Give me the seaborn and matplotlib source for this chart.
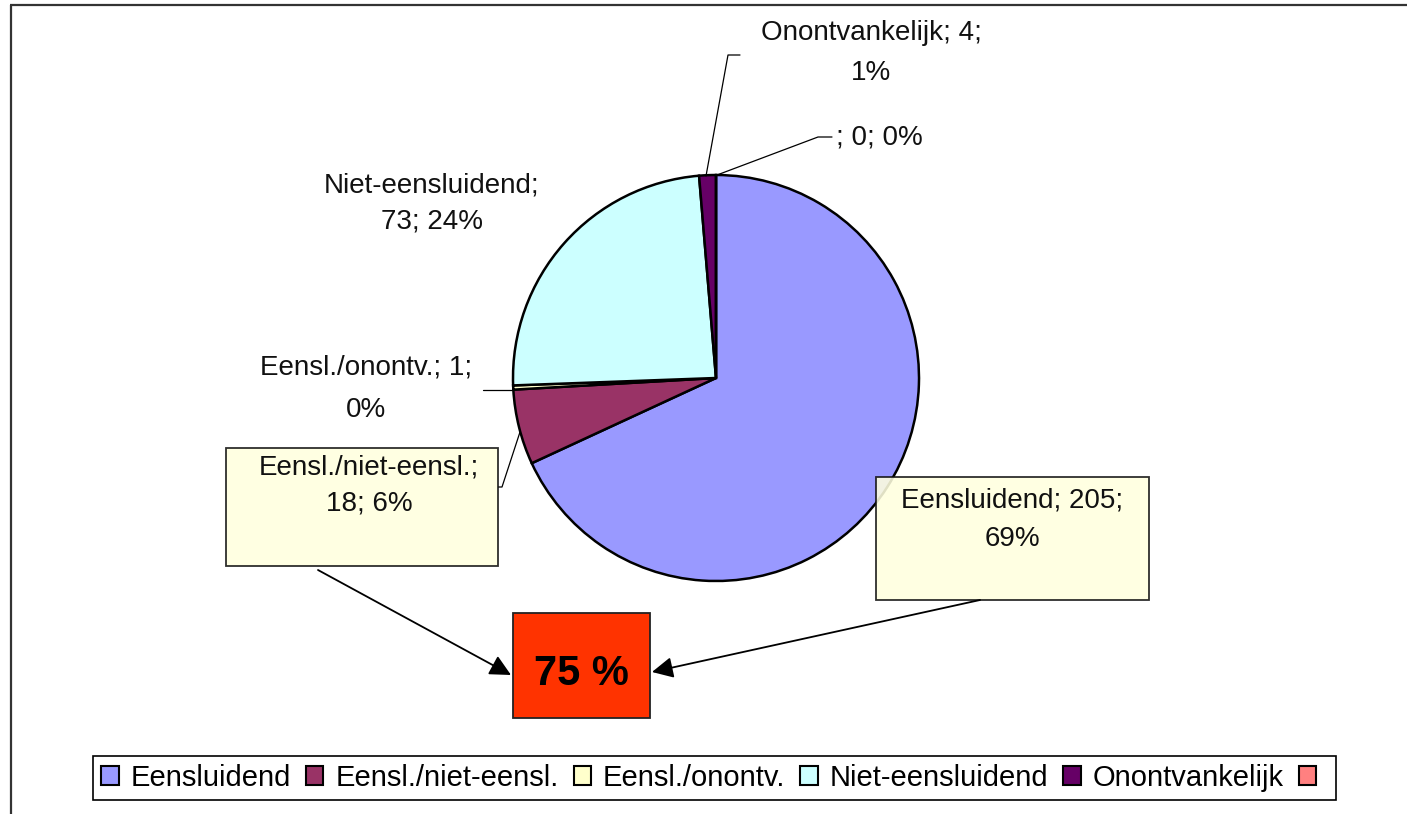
import matplotlib
matplotlib.use("Agg")
import matplotlib.pyplot as plt
import seaborn as sns
from matplotlib.patches import Rectangle, Patch

# ---- data ----
categories = ["Eensluidend", "Eensl./niet-eensl.", "Eensl./onontv.",
              "Niet-eensluidend", "Onontvankelijk", ""]
counts = [205, 18, 1, 73, 4, 0]
pct_labels = ["69%", "6%", "0%", "24%", "1%", "0%"]
colors = ["#9999FF", "#993366", "#FFFFCC", "#CCFFFF", "#660066", "#FF8080"]
total_label = "75 %"

sns.set_theme(style="white")
plt.rcParams['font.family'] = ['Liberation Sans', 'DejaVu Sans']
plt.rcParams['text.color'] = 'black'

W, H = 1407, 814
fig = plt.figure(figsize=(W / 100, H / 100), dpi=100)
ax = fig.add_axes([0, 0, 1, 1])


def Y(y):
    return H - y


ax.pie(counts, colors=colors, startangle=90, counterclock=False,
       center=(716, Y(378)), radius=203,
       wedgeprops=dict(edgecolor='black', linewidth=1.8))
ax.set_xlim(0, W)
ax.set_ylim(0, H)
ax.set_aspect('equal')
ax.axis('off')

# frame lines (partial chart border)
ax.plot([10, W], [Y(5), Y(5)], color='#333333', lw=1.6, clip_on=False, solid_capstyle='butt')
ax.plot([11, 11], [Y(5), 0], color='#333333', lw=1.6, clip_on=False, solid_capstyle='butt')

# label layout: x, y-center, ha, linespacing, break-after (number of parts on first line)
layout = [
    (1012, 520, 'center', 1.62, 2),   # Eensluidend
    (369, 486, 'center', 1.5, 1),     # Eensl./niet-eensl.
    (366, 389, 'center', 1.83, 2),    # Eensl./onontv.
    (432, 203, 'center', 1.5, 1),     # Niet-eensluidend
    (871, 53, 'center', 1.75, 2),     # Onontvankelijk
    (836, 137, 'left', 1.2, 3),       # empty
]

boxes = {0: (876, 477, 1149, 600), 1: (226, 448, 498, 566)}
for i, (x0, y0, x1, y1) in boxes.items():
    ax.add_patch(Rectangle((x0, Y(y1)), x1 - x0, y1 - y0, facecolor='#FFFFDF',
                           edgecolor='#111111', lw=1.3, alpha=0.88, zorder=3))

for i, (cat, cnt, pct) in enumerate(zip(categories, counts, pct_labels)):
    x, yc, ha, ls, brk = layout[i]
    parts = [cat + ";", f"{cnt};", pct]
    first = " ".join(parts[:brk])
    rest = " ".join(parts[brk:])
    txt = first if not rest else first + "\n" + rest
    ax.text(x, Y(yc), txt, ha=ha, va='center', fontsize=20, linespacing=ls,
            color='#111111', multialignment='center', zorder=4)

# leader lines
leaders = [
    [(706, 176), (728, 55), (740, 55)],
    [(717, 175), (818, 137), (832, 137)],
    [(483, 390), (513, 390)],
    [(498, 487), (502, 487), (520, 432)],
]
for pts in leaders:
    ax.plot([p[0] for p in pts], [Y(p[1]) for p in pts], color='black', lw=0.9, zorder=2)

# total box
ax.add_patch(Rectangle((513, Y(718)), 137, 105, facecolor='#FF3300',
                       edgecolor='#222222', lw=1.3, zorder=3))
ax.text(581, Y(674), total_label, ha='center', va='center', fontsize=30,
        fontweight='bold', color='black', zorder=4)

arrow = dict(arrowstyle='-|>', color='black', lw=1.3, mutation_scale=32,
             shrinkA=0, shrinkB=0)
ax.annotate('', xy=(511, Y(675)), xytext=(318, Y(570)), arrowprops=arrow, zorder=5)
ax.annotate('', xy=(652, Y(672)), xytext=(980, Y(600)), arrowprops=arrow, zorder=5)

handles = [Patch(facecolor=c, edgecolor='black', linewidth=1.5) for c in colors]
leg = fig.legend(handles, categories, loc='center',
                 bbox_to_anchor=(714.5 / W, 1 - 778 / H), ncol=6, frameon=True,
                 fontsize=21, handlelength=0.6, handleheight=0.6,
                 handletextpad=0.4, columnspacing=0.52, borderpad=0.27,
                 borderaxespad=0, fancybox=False, edgecolor='black')
leg.get_frame().set_linewidth(1.2)
leg.get_frame().set_alpha(1)
for t in leg.get_texts():
    t.set_color('black')

fig.savefig("out.png", dpi=100)
